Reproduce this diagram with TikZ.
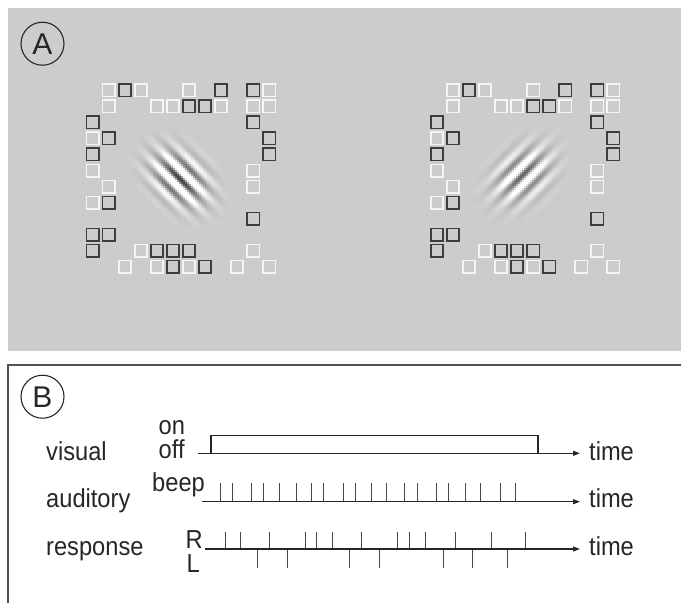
\documentclass[tikz,border=0pt]{standalone}
\usepackage{fontspec}
\setmainfont{Liberation Sans}[FakeStretch=0.91]
\newfontfamily\panelfont{Liberation Sans}
\usetikzlibrary{arrows.meta}
\definecolor{panelgray}{gray}{0.80}
\definecolor{sqwhite}{gray}{0.96}
\definecolor{sqdark}{gray}{0.24}
\definecolor{ink}{gray}{0.15}
% #1,#2 centre, #3 orientation sign, #4 phase (deg), #5 contrast
\newcommand\mygabor[5]{%
  \foreach \gi in {-27,...,27}{%
    \foreach \gj in {-27,...,27}{%
      \pgfmathsetmacro\gX{2*\gi}%
      \pgfmathsetmacro\gY{2*\gj}%
      \pgfmathsetmacro\gD{(\gX-#3*\gY)*0.7071}%
      \pgfmathsetmacro\gA{(\gX+#3*\gY)*0.7071}%
      \pgfmathsetmacro\gE{exp(-(\gD*\gD)/392-(\gA*\gA)/800)}%
      \ifdim\gE pt>0.015pt
        \pgfmathsetmacro\gG{max(0,min(1,0.8-#5*\gE*cos(25.7*\gD+#4)))}%
        \definecolor{gc}{gray}{\gG}%
        \fill[gc] (#1+\gX-1.15,#2+\gY-1.15) rectangle (#1+\gX+1.15,#2+\gY+1.15);
      \fi
    }%
  }%
}
\begin{document}
\begin{tikzpicture}[x=1pt,y=-1pt,
  sqw/.style={draw=sqwhite,line width=1.7pt},
  sqd/.style={draw=sqdark,line width=1.7pt},
  lab/.style={inner sep=0pt,anchor=base west,font=\fontsize{26}{30}\selectfont,text=ink},
  axis/.style={draw=ink,line width=1.2pt,-{Triangle[length=7pt,width=5pt]}},
  tickmark/.style={draw=ink!85,line width=1pt},
  letter/.style={circle,draw=ink,line width=1.1pt,minimum size=43pt,inner sep=0pt,
    font=\panelfont\fontsize{30}{30}\selectfont,text=ink}]
\useasboundingbox (0,0) rectangle (681,603);
\fill[white] (0,0) rectangle (681,603);
% ---------- panel A ----------
\fill[panelgray] (8,8) rectangle (681,351);
\mygabor{180}{179}{1}{0}{0.55}
\mygabor{523.5}{175}{-1}{0}{0.42}
\foreach \ox in {0,344.2}{
  \foreach \c/\r/\t in {1/0/sqw,2/0/sqd,3/0/sqw,6/0/sqw,8/0/sqd,10/0/sqd,11/0/sqw,
      1/1/sqw,4/1/sqw,5/1/sqw,6/1/sqd,7/1/sqd,8/1/sqw,10/1/sqw,11/1/sqw,
      0/2/sqd,10/2/sqd,
      0/3/sqw,1/3/sqd,11/3/sqd,
      0/4/sqd,11/4/sqd,
      0/5/sqw,10/5/sqw,
      1/6/sqw,10/6/sqw,
      0/7/sqw,1/7/sqd,
      10/8/sqd,
      0/9/sqd,1/9/sqd,
      0/10/sqd,3/10/sqw,4/10/sqd,5/10/sqd,6/10/sqd,10/10/sqw,
      2/11/sqw,4/11/sqw,5/11/sqd,6/11/sqw,7/11/sqd,9/11/sqw,11/11/sqw}{
    \draw[\t] ({\ox+92.7+16.05*\c-6.15},{90.3+16.04*\r-6.15}) rectangle +(12.3,12.3);
  }
}
\node[letter] (A) at (42.5,43.7) {A};
% ---------- panel B ----------
\coordinate (fbl) at (8,612);
\coordinate (ftl) at (8,365);
\coordinate (ftr) at (690,365);
\draw[draw=ink!80,line width=1.3pt] (fbl) -- (ftl) -- (ftr);
\node[letter] (B) at (42.5,396.7) {B};
% visual
\node[lab] (lvis) at (46,460) {visual};
\node[lab] (lon) at (158.5,434) {on};
\node[lab] (loff) at (158.5,458) {off};
\coordinate (v0) at (198.4,453.3);
\coordinate (v1) at (580,453.3);
\coordinate (vb0) at (211,453.3);
\coordinate (vb1) at (211,435.7);
\coordinate (vb2) at (538,435.7);
\coordinate (vb3) at (538,453.3);
\draw[ink,line width=1.1pt] (vb0) -- (vb1) -- (vb2) -- (vb3);
\draw[axis] (v0) -- (v1);
\node[lab] (tv) at (589,460) {time};
% auditory
\node[lab] (laud) at (46,507.7) {auditory};
\node[lab] (lbeep) at (152,491) {beep};
\coordinate (a0) at (202,501.7);
\coordinate (a1) at (580,501.7);
\foreach \x in {220,232.3,251.7,263.3,279.3,296,311,323.3,343.3,355.7,371,386.7,404.3,417.7,436,448.3,465,480.7,500,515.7}
  \draw[tickmark] (\x,501.7) -- (\x,483.3);
\draw[axis] (a0) -- (a1);
\node[lab] (ta) at (589,507.7) {time};
% response
\node[lab] (lresp) at (46,555) {response};
\node[lab] (lR) at (185.5,548) {R};
\node[lab] (lL) at (186.5,572.7) {L};
\coordinate (r0) at (205,549);
\coordinate (r1) at (580,549);
\foreach \x in {225,240.7,269.3,305.7,316,332.3,361,397.3,409.3,425.7,455,491,525.7}
  \draw[tickmark] (\x,549) -- (\x,531.7);
\foreach \x in {257.7,287.3,349.3,379,443.3,472.7,507.7}
  \draw[tickmark] (\x,549) -- (\x,567.7);
\draw[axis] (r0) -- (r1);
\node[lab] (tr) at (589,555.5) {time};
\end{tikzpicture}
\end{document}
